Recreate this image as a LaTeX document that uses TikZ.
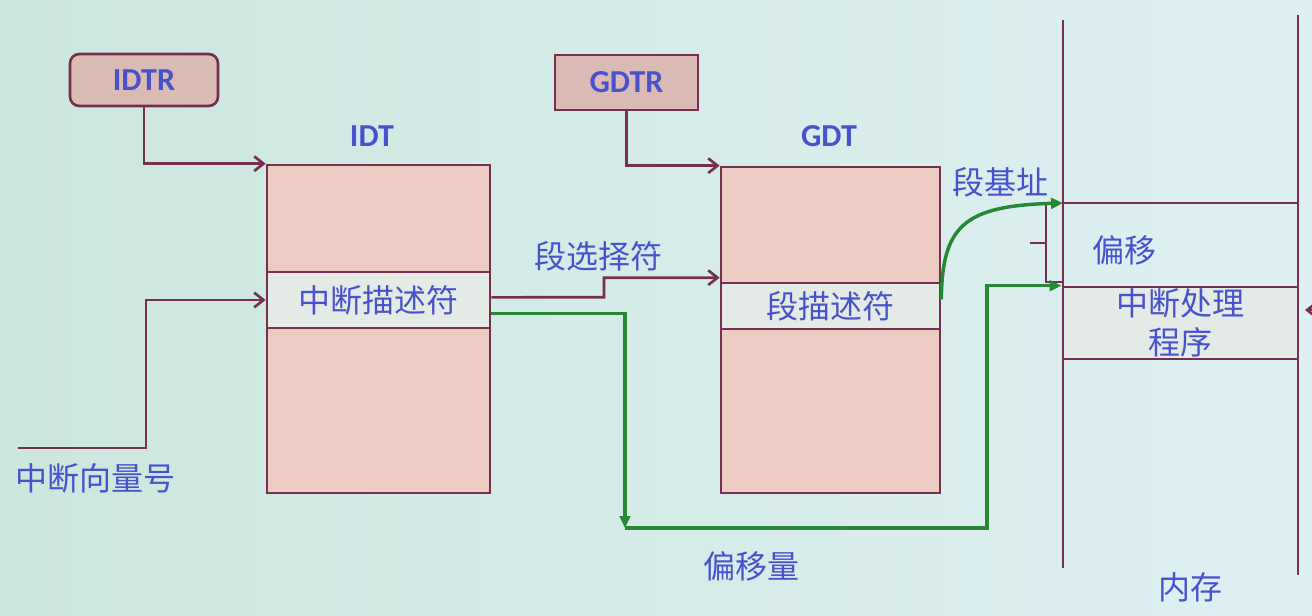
\documentclass[tikz,border=0pt]{standalone}
\usepackage{fontspec}
\setmainfont{Noto Sans CJK SC}
\newfontfamily\latinbold{Carlito}[BoldFont={Carlito Bold}]
\usetikzlibrary{arrows.meta}
\definecolor{bgl}{RGB}{204,231,222}
\definecolor{bgr}{RGB}{222,240,243}
\definecolor{maroon}{RGB}{118,48,78}
\definecolor{pinkfill}{RGB}{236,204,194}
\definecolor{regfill}{RGB}{218,186,180}
\definecolor{rowfill}{RGB}{228,234,230}
\definecolor{txtblue}{RGB}{72,82,205}
\definecolor{gline}{RGB}{38,135,52}
\tikzset{
  lbl/.style={text=txtblue, font=\fontsize{24}{28}\selectfont, inner sep=0pt},
  latlbl/.style={text=txtblue, font=\latinbold\bfseries\fontsize{24}{28}\selectfont, inner sep=0pt},
  tabrow/.style={draw=maroon, line width=2pt, inner sep=0pt, text=txtblue, font=\fontsize{24}{28}\selectfont},
  arr/.style={draw=maroon, line width=2pt, -{Straight Barb[length=7pt,width=11pt,line width=2pt]}},
  plain/.style={draw=maroon, line width=2pt},
  garr/.style={draw=gline, line width=2.6pt, -{Triangle[length=9pt,width=8pt]}},
}
\begin{document}
\begin{tikzpicture}[x=0.75pt,y=-0.75pt]
\shade[left color=bgl, right color=bgr] (0,0) rectangle (1312,615);
\useasboundingbox (0,0) rectangle (1312,615);

% registers
\node[tabrow, fill=regfill, rounded corners=7pt, minimum width=111pt, minimum height=39pt, font=\latinbold\bfseries\fontsize{24}{28}\selectfont] (idtr) at (144,80) {IDTR};
\node[tabrow, fill=regfill, minimum width=107.25pt, minimum height=41.25pt, font=\latinbold\bfseries\fontsize{24}{28}\selectfont] (gdtr) at (626.5,82.5) {GDTR};

% IDT
\node[latlbl] (idtlbl) at (372,136) {IDT};
\node[tabrow, fill=pinkfill, minimum width=167.25pt, minimum height=80.25pt] (idttop) at (378.5,218.5) {};
\node[tabrow, fill=rowfill, minimum width=167.25pt, minimum height=42pt] (idtmid) at (378.5,300) {中断描述符};
\node[tabrow, fill=pinkfill, minimum width=167.25pt, minimum height=123.75pt] (idtbot) at (378.5,410.5) {};

% GDT
\node[latlbl] (gdtlbl) at (829,136) {GDT};
\node[tabrow, fill=pinkfill, minimum width=164.25pt, minimum height=87pt] (gdttop) at (830.5,225) {};
\node[tabrow, fill=rowfill, minimum width=164.25pt, minimum height=34.5pt] (gdtmid) at (830.5,306) {段描述符};
\node[tabrow, fill=pinkfill, minimum width=164.25pt, minimum height=123pt] (gdtbot) at (830.5,411) {};

% memory
\coordinate (m1t) at (1063,20);
\coordinate (m1b) at (1063,568);
\coordinate (m2t) at (1298,15);
\coordinate (m2b) at (1298,575);
\coordinate (mbase) at (1063,203);
\coordinate (mbaser) at (1298,203);
\node[tabrow, fill=rowfill, minimum width=176.25pt, minimum height=54pt, align=center, font=\fontsize{24}{29}\selectfont] (mem) at (1180.5,323) {中断处理\\程序};
\draw[plain] (m1t) -- (m1b);
\draw[plain] (m2t) -- (m2b);
\draw[plain] (mbase) -- (mbaser);

% bracket
\coordinate (bk1) at (1046,205);
\coordinate (bk2) at (1046,282);
\coordinate (bk3) at (1063,282);
\coordinate (tk1) at (1030,243);
\coordinate (tk2) at (1046,243);
\draw[maroon, line width=1.6pt] (bk1) -- (bk2) -- (bk3);
\draw[maroon, line width=1.6pt] (tk1) -- (tk2);

% labels
\node[lbl] (sel) at (598,256) {段选择符};
\node[lbl] (base) at (1000,182) {段基址};
\node[lbl] (ofs) at (1124,250) {偏移};
\node[lbl] (vec) at (95,478) {中断向量号};
\node[lbl] (ofsq) at (751,566) {偏移量};
\node[lbl] (memlbl) at (1190,587) {内存};

% connectors
\draw[arr] (idtr.south) |- (idttop.north west);
\draw[arr] (gdtr.south) |- (gdttop.north west);
\coordinate (vstart) at (18,448);
\coordinate (vc) at (146,448);
\draw[arr] (vstart) -- (vc) |- (idtmid.west);
\coordinate (selA) at (604,297.3);
\draw[arr] ([yshift=2pt]idtmid.east) -- (selA) |- ([yshift=5pt]gdttop.south west);

% green offset path
\coordinate (g1) at (625,528);
\coordinate (g2) at (987,528);
\draw[garr] ([yshift=-10pt]idtmid.east) -| (g1);
\draw[garr] (g1) -- (g2) |- (mem.north west);
% green base curve
\draw[garr] ([yshift=5pt]gdtmid.east) .. controls (942,225) and (965,206) .. (mbase);

% right edge arrow (cut off)
\coordinate (re1) at (1340,310);
\coordinate (re2) at (1305,310);
\draw[arr] (re1) -- (re2);
\end{tikzpicture}
\end{document}
